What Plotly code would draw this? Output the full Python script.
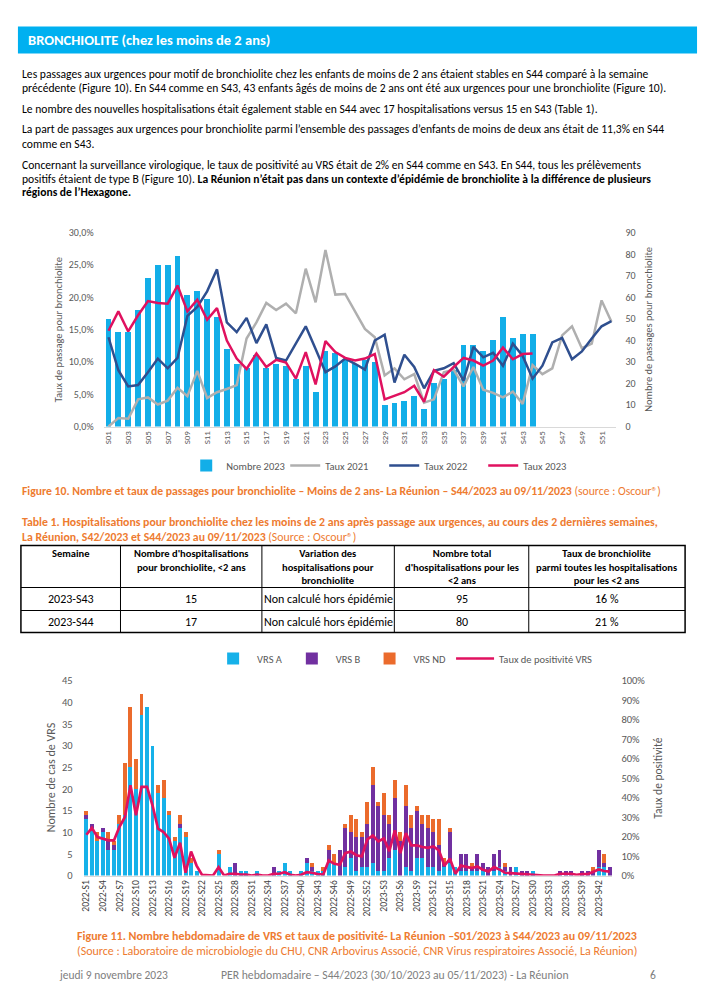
import plotly.graph_objects as go

# ---------------- DATA ----------------
# Figure 10 : passages aux urgences pour bronchiolite (<2 ans)
semaines_fig10 = [f"S{i:02d}" for i in range(1, 53)]
nombre_2023 = [50, 44, 44, 54, 69, 75, 75, 79, 61, 63,
               59, 51, 36, 29, 27, 33, 27, 29, 28, 22,
               28, 16, 35, 34, 31, 29, 31, 30, 10, 11,
               12, 14, 8, 20, 22, 26, 38, 38, 35, 40,
               51, 41, 43, 43]
taux_2021 = [0.0, 1.3, 1.2, 4.2, 4.5, 3.4, 4.0, 6.0, 4.7, 8.6, 4.4, 5.3, 5.8, 6.4, 13.6, 16.1, 19.1, 18.0,
             19.0, 17.5, 24.4, 19.2, 27.3, 20.4, 20.5, 17.9, 15.1, 13.8, 7.9, 9.0, 7.3, 8.1, 3.7, 4.2, 8.4,
             8.8, 6.2, 9.2, 5.7, 5.2, 4.5, 5.4, 3.5, 9.5, 8.1, 9.0, 14.1, 15.5, 12.1, 12.8, 19.5, 16.2]
taux_2022 = [13.8, 8.7, 6.2, 6.4, 8.4, 10.5, 9.0, 10.6, 17.1, 18.5, 20.9, 24.3, 16.1, 14.6, 16.8, 12.9, 15.8, 10.6,
             10.2, 12.8, 15.5, 12.0, 8.4, 9.3, 10.5, 9.7, 8.8, 13.3, 14.2, 6.8, 11.1, 9.2, 5.9, 8.6, 9.0,
             9.8, 7.1, 12.3, 10.7, 11.4, 9.4, 12.8, 10.9, 7.4, 9.4, 13.0, 13.7, 10.4, 11.6, 13.6, 15.5, 16.3]
taux_2023 = [14.8, 17.8, 14.7, 17.2, 19.4, 19.1, 19.0, 21.8, 17.8, 19.6, 16.5, 18.3, 13.3, 10.5, 8.9, 11.3, 9.2, 10.3,
             9.9, 7.4, 11.5, 6.5, 13.2, 11.5, 10.6, 10.2, 10.5, 11.2, 4.2, 4.7, 5.3, 6.3, 3.8, 8.7, 7.7,
             9.2, 10.6, 10.2, 9.4, 10.2, 12.2, 10.4, 11.2, 11.3]

# Figure 11 : VRS hebdomadaires 2022-S1 .. 2023-S44
semaines_fig11 = [f"2022-S{i}" for i in range(1, 53)] + [f"2023-S{i}" for i in range(1, 45)]
vrs_a = [13, 11, 8, 10, 6, 6, 12, 14, 25, 20,
         37, 39, 30, 19, 18, 14, 8, 11, 9, 3,
         1, 0, 0, 0, 5, 0, 2, 0, 1, 1,
         0, 1, 0, 0, 0, 1, 3, 1, 0, 1,
         3, 1, 1, 1, 3, 3, 0, 2, 4, 1,
         2, 2, 3, 1, 1, 4, 6, 0, 2, 1,
         4, 4, 2, 2, 1, 2, 3, 2, 1, 1,
         1, 1, 1, 0, 1, 2, 1, 0, 2, 0,
         0, 1, 0, 0, 0, 0, 0, 0, 0, 0,
         0, 0, 0, 2, 2, 0]
vrs_b = [1, 1, 0, 1, 2, 1, 0, 0, 0, 0,
         0, 0, 0, 0, 0, 0, 0, 1, 0, 0,
         0, 0, 0, 0, 0, 0, 0, 3, 0, 0,
         0, 0, 0, 0, 2, 0, 0, 0, 0, 0,
         1, 1, 0, 0, 3, 0, 6, 9, 6, 8,
         7, 10, 18, 15, 13, 8, 12, 8, 14, 10,
         11, 8, 9, 8, 6, 1, 7, 0, 4, 4,
         1, 4, 2, 2, 4, 4, 1, 2, 0, 1,
         1, 0, 0, 0, 0, 0, 1, 1, 1, 0,
         1, 1, 1, 4, 1, 2]
vrs_nd = [1, 0, 2, 0, 2, 1, 2, 12, 14, 7,
          5, 0, 0, 2, 4, 1, 1, 2, 1, 1,
          0, 0, 0, 0, 1, 0, 0, 0, 0, 0,
          0, 0, 0, 0, 0, 0, 0, 0, 0, 0,
          0, 1, 0, 1, 1, 2, 0, 1, 4, 4,
          1, 5, 4, 1, 5, 2, 4, 2, 5, 3,
          1, 2, 3, 3, 6, 1, 1, 0, 0, 0,
          1, 0, 0, 0, 0, 0, 1, 0, 0, 0,
          0, 0, 0, 0, 0, 0, 0, 0, 0, 0,
          0, 0, 1, 0, 2, 0]
taux_positivite = [20.9, 24.4, 19.7, 18.9, 18.0, 18.0, 24.9, 30.0, 46.3, 30.9,
                   45.4, 45.4, 36.0, 24.0, 22.3, 18.9, 9.1, 16.8, 1.4, 12.3,
                   5.1, 0.3, 0.0, 0.0, 4.3, 0.0, 0.9, 0.9, 0.5, 0.5,
                   0.0, 0.4, 0.0, 0.0, 0.9, 0.9, 1.7, 0.4, 0.0, 0.4,
                   1.7, 1.4, 0.7, 0.5, 7.7, 6.0, 5.5, 11.5, 12.3, 10.4,
                   9.8, 18.5, 20.5, 17.5, 19.0, 12.5, 23.2, 11.5, 21.8, 15.4,
                   15.5, 14.6, 14.2, 14.9, 12.9, 5.1, 8.6, 0.9, 5.1, 4.6,
                   3.8, 4.6, 2.9, 2.1, 4.3, 3.1, 1.4, 1.2, 1.0, 0.7,
                   0.5, 0.3, 0.0, 0.0, 0.0, 0.0, 0.9, 0.9, 0.9, 0.3,
                   0.7, 0.7, 1.7, 3.1, 2.3, 2.0]

# Table 1
table_header = ["Semaine", "Nombre d'hospitalisations<br>pour bronchiolite, <2 ans",
                "Variation des<br>hospitalisations pour<br>bronchiolite",
                "Nombre total<br>d'hospitalisations pour les<br><2 ans",
                "Taux de bronchiolite<br>parmi toutes les hospitalisations<br>pour les <2 ans"]
table_semaine = ["2023-S43", "2023-S44"]
table_hospit = ["15", "17"]
table_variation = ["Non calculé hors épidémie", "Non calculé hors épidémie"]
table_total = ["95", "80"]
table_taux = ["16 %", "21 %"]

# ---------------- FIGURE ----------------
W, H = 707, 1000
FONT = "Carlito, Calibri, Lato, sans-serif"
ORANGE = "#EE7B30"
GREY = "#595959"


def px(x):
    return (x - 2) / W


def py(y):
    return 1 - ((y - 5.5) / 0.987) / H


fig = go.Figure()

# Figure 10 traces
fig.add_trace(go.Bar(x=semaines_fig10[:len(nombre_2023)], y=nombre_2023, name="Nombre 2023",
                     marker=dict(color="#12AEE8", line=dict(width=0)), width=0.6,
                     xaxis="x", yaxis="y", legend="legend"))
fig.add_trace(go.Scatter(x=semaines_fig10, y=[v / 100 for v in taux_2021], name="Taux 2021", mode="lines",
                         line=dict(color="#AFAFAF", width=2.5), xaxis="x", yaxis="y2", legend="legend"))
fig.add_trace(go.Scatter(x=semaines_fig10, y=[v / 100 for v in taux_2022], name="Taux 2022", mode="lines",
                         line=dict(color="#2F4F8F", width=2.5), xaxis="x", yaxis="y2", legend="legend"))
fig.add_trace(go.Scatter(x=semaines_fig10[:len(taux_2023)], y=[v / 100 for v in taux_2023], name="Taux 2023",
                         mode="lines", line=dict(color="#E0115F", width=2.5), xaxis="x", yaxis="y2",
                         legend="legend"))

# Figure 11 traces
for vals, nm, col in [(vrs_a, "VRS A", "#16B1E9"), (vrs_b, "VRS B", "#7130A0"), (vrs_nd, "VRS ND", "#EB6B2C")]:
    fig.add_trace(go.Bar(x=semaines_fig11, y=vals, name=nm, marker=dict(color=col, line=dict(width=0)),
                         width=0.72, xaxis="x2", yaxis="y3", legend="legend2"))
fig.add_trace(go.Scatter(x=semaines_fig11, y=[v / 100 for v in taux_positivite], name="Taux de positivité VRS",
                         mode="lines", line=dict(color="#E0115F", width=2.7), xaxis="x2", yaxis="y4",
                         legend="legend2"))

tickfont = dict(size=10, color=GREY, family=FONT)

fig.update_layout(
    width=W, height=H, autosize=False,
    margin=dict(l=0, r=0, t=0, b=0),
    paper_bgcolor="white", plot_bgcolor="rgba(0,0,0,0)",
    font=dict(family=FONT, color="#000000"),
    separators=", ",
    barmode="stack",
    xaxis=dict(domain=[px(103), px(618)], anchor="y", type="category",
               categoryorder="array", categoryarray=semaines_fig10,
               range=[-0.5, 51.5], tickmode="array", tickvals=semaines_fig10[::2],
               tickangle=-90, tickfont=dict(size=9, color=GREY, family=FONT),
               showline=True, linecolor="#D9D9D9", linewidth=1, ticks="", showgrid=False),
    yaxis=dict(domain=[py(426), py(232)], anchor="x", side="right", range=[0, 90], dtick=10,
               showgrid=False, zeroline=False, tickfont=tickfont, ticklabelstandoff=8),
    yaxis2=dict(overlaying="y", anchor="x", side="left", range=[0, 0.30], dtick=0.05, tickformat=".1%",
                showgrid=False, zeroline=False, tickfont=tickfont, ticklabelstandoff=9),
    xaxis2=dict(domain=[px(83), px(614)], anchor="y3", type="category",
                categoryorder="array", categoryarray=semaines_fig11,
                range=[-0.5, 95.5], tickmode="array", tickvals=semaines_fig11[::3],
                tickangle=-90, tickfont=dict(size=9.5, color="#404040", family=FONT),
                showline=True, linecolor="#D9D9D9", ticks="", showgrid=False),
    yaxis3=dict(domain=[py(875), py(680)], anchor="x2", side="left", range=[0, 45], dtick=5,
                showgrid=False, zeroline=False, tickfont=dict(size=10.5, color=GREY, family=FONT),
                ticklabelstandoff=10),
    yaxis4=dict(overlaying="y3", anchor="x2", side="right", range=[0, 1], dtick=0.1, tickformat=".0%",
                showgrid=False, zeroline=False, tickfont=dict(size=10.5, color=GREY, family=FONT),
                ticklabelstandoff=8),
    legend=dict(orientation="h", x=px(186), xanchor="left", y=py(465), yanchor="middle",
                font=dict(size=10.5, color=GREY, family=FONT), itemwidth=30,
                entrywidth=54, entrywidthmode="pixels", bgcolor="rgba(0,0,0,0)", traceorder="normal"),
    legend2=dict(orientation="h", x=px(209), xanchor="left", y=py(658), yanchor="middle",
                 font=dict(size=10.5, color=GREY, family=FONT), itemwidth=38,
                 bgcolor="rgba(0,0,0,0)", traceorder="normal"),
)

shapes = []
ann = []


def txt(x, y, s, size=10.5, color="#000000", xanchor="left", yanchor="middle", angle=0, align="left"):
    ann.append(dict(x=px(x), y=py(y), xref="paper", yref="paper", text=s, showarrow=False,
                    xanchor=xanchor, yanchor=yanchor, textangle=angle, align=align,
                    font=dict(size=size, color=color, family=FONT), borderpad=0))


def line(x0, y0, x1, y1, w=1, color="#000000"):
    shapes.append(dict(type="line", xref="paper", yref="paper", x0=px(x0), y0=py(y0), x1=px(x1), y1=py(y1),
                       line=dict(color=color, width=w)))


# Header bar
shapes.append(dict(type="rect", xref="paper", yref="paper", x0=px(17), x1=px(699), y0=py(53), y1=py(26),
                   fillcolor="#00B0F0", line=dict(width=0), layer="below"))
txt(26, 40, "<b>BRONCHIOLITE (chez les moins de 2 ans)</b>", size=14.5, color="#FFFFFF")

# Paragraphs
para = [
    (73, "Les passages aux urgences pour motif de bronchiolite chez les enfants de moins de 2 ans étaient stables en S44 comparé à la semaine"),
    (87, "précédente (Figure 10). En S44 comme en S43, 43 enfants âgés de moins de 2 ans ont été aux urgences pour une bronchiolite (Figure 10)."),
    (108, "Le nombre des nouvelles hospitalisations était également stable en S44 avec 17 hospitalisations versus 15 en S43 (Table 1)."),
    (129, "La part de passages aux urgences pour bronchiolite parmi l’ensemble des passages d’enfants de moins de deux ans était de 11,3% en S44"),
    (143, "comme en S43."),
    (164, "Concernant la surveillance virologique, le taux de positivité au VRS était de 2% en S44 comme en S43. En S44, tous les prélèvements"),
    (178, "positifs étaient de type B (Figure 10). <b>La Réunion n’était pas dans un contexte d’épidémie de bronchiolite à la différence de plusieurs</b>"),
    (192, "<b>régions de l’Hexagone.</b>"),
]
for y, s in para:
    txt(20, y, s, size=11.6)

# Axis titles figure 10
txt(58, 329, "Taux de passage pour bronchiolite", size=10.5, color=GREY, xanchor="center", angle=-90)
txt(650, 329, "Nombre de passages pour bronchiolite", size=10.5, color=GREY, xanchor="center", angle=-90)

# Caption figure 10
txt(20, 491, "<b>Figure 10. Nombre et taux de passages pour bronchiolite – Moins de 2 ans- La Réunion – S44/2023 au 09/11/2023</b> (source : Oscour®)",
    size=11.7, color=ORANGE)

# Table title
txt(20, 521, "<b>Table 1. Hospitalisations pour bronchiolite chez les moins de 2 ans après passage aux urgences, au cours des 2 dernières semaines,</b>",
    size=11.8, color=ORANGE)
txt(20, 537, "<b>La Réunion, S42/2023 et S44/2023 au 09/11/2023</b> (Source : Oscour®)", size=11.8, color=ORANGE)

# Table grid
tx0, tx1 = 20, 687
ty0, ty1, ty2, ty3 = 545, 587, 610, 632
cols = [20, 120, 262, 395, 530, 687]
shapes.append(dict(type="rect", xref="paper", yref="paper", x0=px(tx0), x1=px(tx1), y0=py(ty3), y1=py(ty0),
                   line=dict(color="#000000", width=1.5)))
line(tx0, ty1, tx1, ty1, 1.2)
line(tx0, ty2, tx1, ty2, 1.2)
for c in cols[1:-1]:
    line(c, ty0, c, ty3, 1)
centers = [(cols[i] + cols[i + 1]) / 2 for i in range(5)]
for i, h in enumerate(table_header):
    txt(centers[i], 546, "<b>" + h + "</b>", size=10.5, xanchor="center", yanchor="top", align="center")
for r, yy in enumerate([598, 621]):
    txt(centers[0], yy, table_semaine[r], size=12, xanchor="center")
    txt(centers[1], yy, table_hospit[r], size=12, xanchor="center")
    txt(263, yy, table_variation[r], size=12, xanchor="left")
    txt(centers[3], yy, table_total[r], size=12, xanchor="center")
    txt(centers[4], yy, table_taux[r], size=12, xanchor="center")

# Axis titles figure 11
txt(50, 777, "Nombre de cas de VRS", size=12, color=GREY, xanchor="center", angle=-90)
txt(659, 778, "Taux de positivité", size=11.5, color=GREY, xanchor="center", angle=-90)

# Caption figure 11
txt(358, 935, "<b>Figure 11. Nombre hebdomadaire de VRS et taux de positivité- La Réunion –S01/2023 à S44/2023 au 09/11/2023</b>",
    size=12, color=ORANGE, xanchor="center")
txt(358, 950, "(Source : Laboratoire de microbiologie du CHU, CNR Arbovirus Associé, CNR Virus respiratoires Associé, La Réunion)",
    size=12, color=ORANGE, xanchor="center")

# Footer
txt(57, 974, "jeudi 9 novembre 2023", size=11.5, color="#808080")
txt(220, 974, "PER hebdomadaire – S44/2023 (30/10/2023 au 05/11/2023) - La Réunion", size=11.7, color="#808080")
txt(651, 974, "6", size=11.5, color="#808080")

fig.update_layout(shapes=shapes, annotations=ann)
reset_js = ("var s=document.createElement('style');"
            "s.textContent='html,body{margin:0!important;padding:0!important;overflow:hidden!important;}';"
            "document.head.appendChild(s);")
fig.write_html("out.html", config={"displayModeBar": False, "staticPlot": True}, post_script=reset_js)
